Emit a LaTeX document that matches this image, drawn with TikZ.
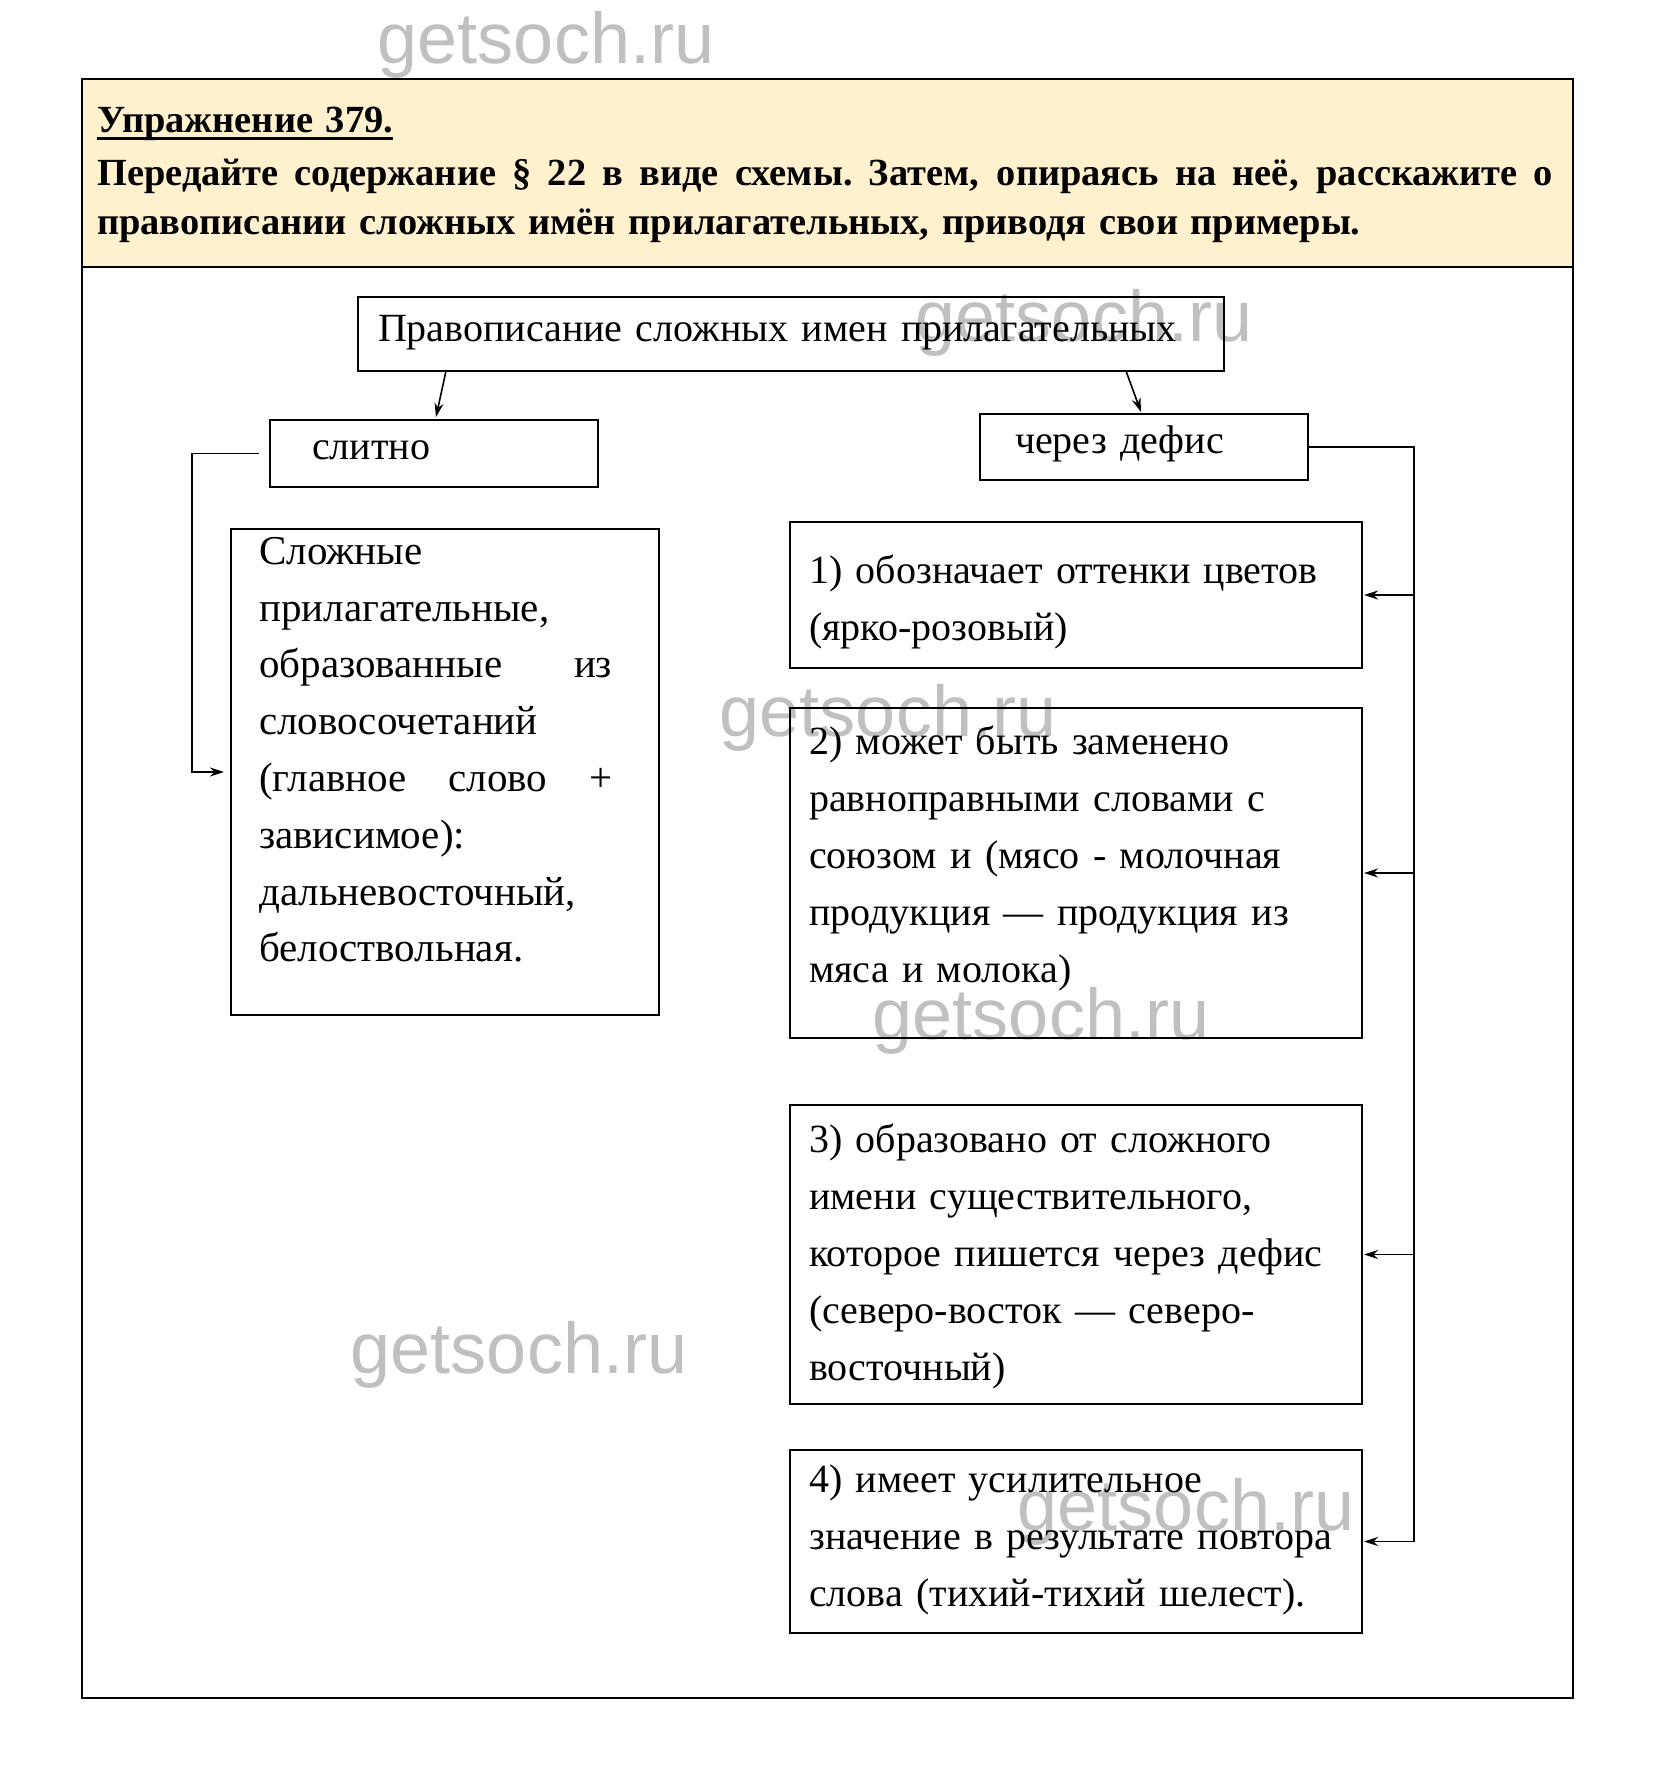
\documentclass[tikz,border=0pt]{standalone}
\usepackage{fontspec}
\setmainfont{Liberation Serif}
\newfontfamily\wmfont{Liberation Sans}
\usetikzlibrary{arrows.meta,positioning}

\definecolor{taskfill}{RGB}{255,240,206}
\definecolor{wmgray}{RGB}{192,192,192}

\newsavebox\titlebox
\newcommand{\ulined}[1]{\sbox\titlebox{#1}\rlap{\rule[-7pt]{\wd\titlebox}{2.5pt}}\usebox\titlebox}
\newcommand{\spreadline}[2]{{\spaceskip=0.25em plus 1fil\relax\xspaceskip=0.25em plus 1fil\relax\makebox[#1][s]{#2}}}

\begin{document}
\begin{tikzpicture}[x=1pt, y=-1pt,
    box/.style={rectangle, draw, line width=2.4pt, inner sep=0pt, outer sep=0pt},
    boxtext/.style={inner sep=0pt, text width=#1, align=left, font=\fontsize{40}{56.8}\selectfont},
    arrow/.style={->, >={Stealth[length=14pt,width=9pt]}, line width=1.6pt},
    watermark/.style={text=wmgray, font=\wmfont\fontsize{72}{72}\selectfont, inner sep=0pt}
]

\useasboundingbox[fill=white] (0,0) rectangle (1656,1778);

% Task
\fill[taskfill] (82,79) rectangle (1573,267);
\draw[line width=2pt] (82,79) rectangle (1573,1698);
\draw[line width=2pt] (82,267) -- (1573,267);
\node[anchor=north west, inner sep=0pt, text width=1456pt, align=left,
      font=\bfseries\fontsize{38.4}{49.5}\selectfont] (task) at (97,107)
  {\ulined{Упражнение 379.}\\[3pt]
   \spreadline{1456pt}{Передайте содержание § 22 в виде схемы. Затем, опираясь на неё, расскажите о}\\
   правописании сложных имён прилагательных, приводя свои примеры.};

% Watermarks
\foreach \p [count=\i] in {(546,45), (1084,323), (888,718), (1041,1021), (519,1355), (1186,1512)}
  \node[watermark] (wm\i) at \p {getsoch.ru};

% Top
\node[box, minimum width=866pt, minimum height=74pt, inner xsep=20pt, text width=826pt,
      align=left, text height=25pt, text depth=11pt, font=\fontsize{40}{40}\selectfont]
  (head) at (791,334) {Правописание сложных имен прилагательных};

% Two ways
\node[box, minimum height=67pt, inner xsep=42pt, text width=244pt, align=left,
      text height=24pt, text depth=12pt, font=\fontsize{40}{40}\selectfont]
  (slit) at (434,453.5) {слитно};
\node[box, minimum height=66pt, inner xsep=35pt, text width=258pt, align=left,
      text height=24pt, text depth=12pt, font=\fontsize{40}{40}\selectfont]
  (defis) at (1144,447) {через дефис};

% Rule for "слитно"
\node[box, minimum width=428pt, minimum height=486pt] (rule) at (445,772) {};
\node[boxtext=353pt, font=\fontsize{41}{56.8}\selectfont,
      below right=8pt and 28pt of rule.north west] (ruletxt)
  {Сложные\\
   прилагательные,\\
   \spreadline{353pt}{образованные из}\\
   словосочетаний\\
   \spreadline{353pt}{(главное слово +}\\
   зависимое):\\
   дальневосточный,\\
   белоствольная.};

% Rules for "через дефис"
\node[box, minimum width=572pt, minimum height=146pt] (r1) at (1076,595) {};
\node[box, minimum width=572pt, minimum height=330pt, below=40pt of r1] (r2) {};
\node[box, minimum width=572pt, minimum height=299pt, below=67pt of r2] (r3) {};
\node[box, minimum width=572pt, minimum height=183pt, below=46pt of r3] (r4) {};

\node[boxtext=545pt, below right=33pt and 19pt of r1.north west] (r1txt)
  {1) обозначает оттенки цветов\\
   (ярко-розовый)};
\node[boxtext=545pt, below right=18pt and 19pt of r2.north west] (r2txt)
  {2) может быть заменено\\
   равноправными словами с\\
   союзом и (мясо - молочная\\
   продукция — продукция из\\
   мяса и молока)};
\node[boxtext=545pt, below right=19pt and 19pt of r3.north west] (r3txt)
  {3) образовано от сложного\\
   имени существительного,\\
   которое пишется через дефис\\
   (северо-восток — северо-\\
   восточный)};
\node[boxtext=545pt, below right=15pt and 19pt of r4.north west] (r4txt)
  {4) имеет усилительное\\
   значение в результате повтора\\
   слова (тихий-тихий шелест).};

% Arrows
\draw[arrow] ([xshift=-345pt]head.south) -- ([xshift=2pt,yshift=3pt]slit.north);
\draw[arrow] ([xshift=335pt]head.south) -- ([xshift=-3pt,yshift=2pt]defis.north);

\draw[arrow] ([xshift=-11pt]slit.west) -- ++(-67,0) |- ([xshift=-7pt]rule.west);

\draw[arrow] (defis.east) -- ++(106,0) coordinate (rail) |- ([xshift=2pt]r4.east);
\draw[arrow] (r1.east -| rail) -- ([xshift=2pt]r1.east);
\draw[arrow] (r2.east -| rail) -- ([xshift=2pt]r2.east);
\draw[arrow] (r3.east -| rail) -- ([xshift=2pt]r3.east);

\end{tikzpicture}
\end{document}
